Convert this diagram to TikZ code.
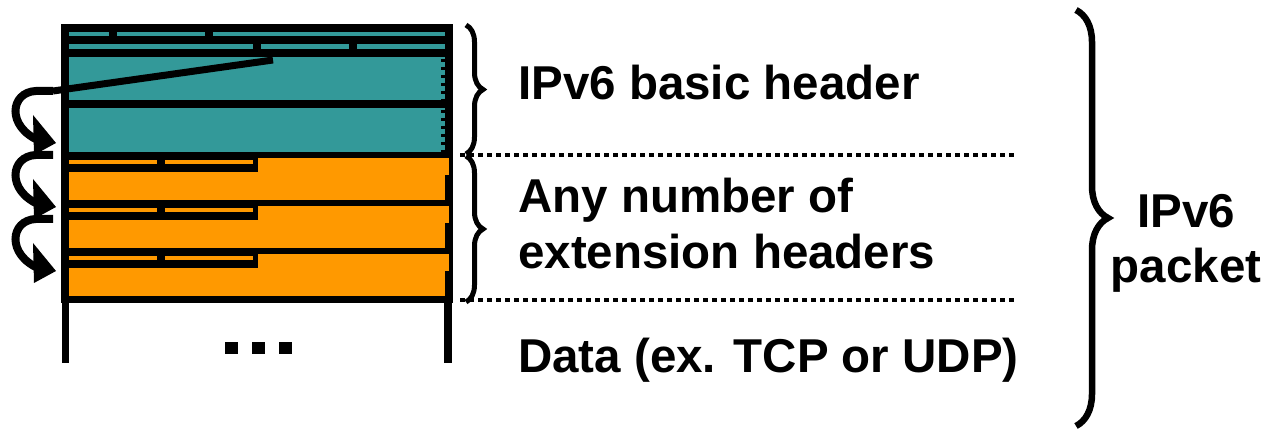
\documentclass[tikz,border=0pt]{standalone}
\usepackage{fontspec}
\setmainfont{Liberation Sans}
\usetikzlibrary{decorations.pathreplacing}
\definecolor{hdrteal}{RGB}{51,153,153}
\definecolor{exthdr}{RGB}{255,153,0}
\begin{document}
\begin{tikzpicture}[x=1pt,y=-1pt,
  lbl/.style={anchor=base west,inner sep=0pt,font=\fontsize{47.5}{55}\selectfont\bfseries},
  pkt/.style={anchor=base,inner sep=0pt,font=\fontsize{47.5}{55}\selectfont\bfseries},
  smallbrace/.style={decorate,decoration={brace,amplitude=17pt},line width=5pt},
  bigbrace/.style={decorate,decoration={brace,amplitude=32pt},line width=6.5pt},
  dotline/.style={line width=4.5pt,dash pattern=on 4.5pt off 4.5pt},
  chain/.style={line width=8pt},
  ticks/.style={line width=4pt,dash pattern=on 3pt off 5pt}]
\useasboundingbox (0,0) rectangle (1266,430);

% ---- packet frame (black background) ----
\fill (61,24) rectangle (453,303);
\fill (62,303) rectangle (69,363);
\fill (444,303) rectangle (452,363);

% ---- IPv6 basic header ----
\fill[hdrteal] (69,32) rectangle (109,36);
\fill[hdrteal] (117,32) rectangle (205,36);
\fill[hdrteal] (213,32) rectangle (445,36);
\fill[hdrteal] (69,44) rectangle (253,49);
\fill[hdrteal] (261,44) rectangle (349,49);
\fill[hdrteal] (357,44) rectangle (445,49);
\fill[hdrteal] (69,57) rectangle (445,100);
\fill[hdrteal] (69,108) rectangle (445,152);
\draw[ticks] (443,59) -- (443,100);
\draw[ticks] (443,110) -- (443,152);

% ---- extension headers ----
\foreach \y in {158,206,254}{
  \fill[exthdr] (258,\y) rectangle (449,\y+17);
  \fill[exthdr] (258,\y+17) rectangle (445,\y+42);
  \fill[exthdr] (69,\y+2) rectangle (157,\y+6);
  \fill[exthdr] (165,\y+2) rectangle (253,\y+6);
  \fill[exthdr] (69,\y+14) rectangle (258,\y+42);
}

% ---- data continues ----
\fill (225,342) rectangle (238,354);
\fill (252,342) rectangle (265,354);
\fill (279,342) rectangle (292,354);

% ---- next-header chain ----
\coordinate (nh) at (273,60);
\coordinate (c1) at (53,91);
\draw[line width=7pt] (nh) -- (c1);
\foreach \ys in {91,155,219}{
  \draw[chain] (53,\ys) -- (36,\ys) .. controls (10,\ys+1) and (6,\ys+36) .. (40,\ys+50);
  \fill (33,\ys+24) -- (56,\ys+52) -- (34,\ys+64) -- cycle;
}

% ---- separators ----
\coordinate (s1a) at (460,155);
\coordinate (s1b) at (1018,155);
\coordinate (s2a) at (460,300);
\coordinate (s2b) at (1018,300);
\draw[dotline] (s1a) -- (s1b);
\draw[dotline] (s2a) -- (s2b);

% ---- braces ----
\coordinate (b1t) at (466,25);
\coordinate (b1b) at (466,154);
\coordinate (b2t) at (466,156);
\coordinate (b2b) at (466,302);
\coordinate (b3t) at (1076,10);
\coordinate (b3b) at (1076,426);
\draw[smallbrace] (b1t) -- (b1b);
\draw[smallbrace] (b2t) -- (b2b);
\draw[bigbrace] (b3t) -- (b3b);

% ---- labels ----
\node[lbl] (basic) at (518,100) {IPv6 basic header};
\node[lbl] (ext1) at (518,213) {Any number of};
\node[lbl] (ext2) at (518,269) {extension headers};
\node[lbl] (data) at (518,372) {Data (ex. TCP or UDP)};
\node[pkt] (pkt1) at (1186,228) {IPv6};
\node[pkt] (pkt2) at (1186,283) {packet};
\end{tikzpicture}
\end{document}
